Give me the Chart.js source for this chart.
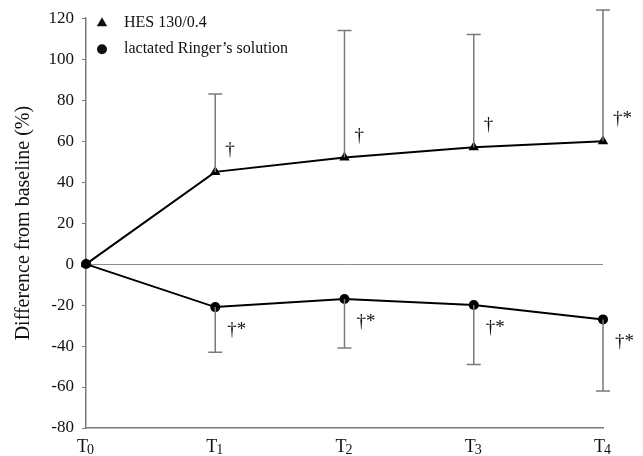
<!DOCTYPE html>
<html>
<head>
<meta charset="utf-8">
<script src="https://cdn.jsdelivr.net/npm/chart.js@4"></script>
<style>
  html, body { margin: 0; padding: 0; background: #fff; }
  #wrap { width: 643px; height: 456px; }
</style>
</head>
<body>
<div id="wrap"><canvas id="myChart" width="643" height="456"></canvas></div>
<script>
// x categories: letter + subscript index
const timeLabels = ['T0', 'T1', 'T2', 'T3', 'T4'];

const hesValues = [0, 45, 52, 57, 60];
const hesUpper = [null, 83, 114, 112, 124];
const hesMarks = ['', '\u2020', '\u2020', '\u2020', '\u2020*'];

const ringerValues = [0, -21, -17, -20, -27];
const ringerLower = [null, -43, -41, -49, -62];
const ringerMarks = ['', '\u2020*', '\u2020*', '\u2020*', '\u2020*'];

const yTicks = { min: -80, max: 120, step: 20 };

const serif = '"Liberation Serif", "DejaVu Serif", serif';

// error bars (one-sided), significance marks, subscripted x labels, legend
const extrasPlugin = {
    id: 'extras',
    afterDatasetsDraw(chart) {
        const { ctx } = chart;
        const x = chart.scales.x;
        const y = chart.scales.y;
        const bars = [hesUpper, ringerLower];
        const vals = [hesValues, ringerValues];
        ctx.save();
        ctx.strokeStyle = '#7a7a7a';
        ctx.lineWidth = 1.5;
        bars.forEach((arr, di) => {
            arr.forEach((v, i) => {
                if (v === null) return;
                const px = x.getPixelForValue(i);
                const py0 = y.getPixelForValue(vals[di][i]);
                const py1 = y.getPixelForValue(v);
                ctx.beginPath();
                ctx.moveTo(px, py0);
                ctx.lineTo(px, py1);
                ctx.moveTo(px - 7, py1);
                ctx.lineTo(px + 7, py1);
                ctx.stroke();
            });
        });
        ctx.restore();
    },
    afterDraw(chart) {
        const { ctx, chartArea } = chart;
        const x = chart.scales.x;
        const y = chart.scales.y;
        ctx.save();

        // significance marks
        ctx.fillStyle = '#111';
        ctx.font = '19px ' + serif;
        ctx.textAlign = 'left';
        ctx.textBaseline = 'middle';
        hesMarks.forEach((m, i) => {
            if (!m) return;
            ctx.fillText(m, x.getPixelForValue(i) + 10, y.getPixelForValue(hesValues[i]) - 22);
        });
        ringerMarks.forEach((m, i) => {
            if (!m) return;
            ctx.fillText(m, x.getPixelForValue(i) + 12, y.getPixelForValue(ringerValues[i]) + 23);
        });

        // x labels with subscript
        ctx.textBaseline = 'alphabetic';
        timeLabels.forEach((lab, i) => {
            const px = x.getPixelForValue(i);
            const main = lab.charAt(0);
            const sub = lab.slice(1);
            ctx.font = '18px ' + serif;
            const w1 = ctx.measureText(main).width;
            ctx.font = '14px ' + serif;
            const w2 = ctx.measureText(sub).width;
            const left = px - (w1 + w2) / 2;
            const base = chartArea.bottom + 24;
            ctx.font = '18px ' + serif;
            ctx.textAlign = 'left';
            ctx.fillText(main, left, base);
            ctx.font = '14px ' + serif;
            ctx.fillText(sub, left + w1 - 1, base + 2);
        });

        // legend inside the plot area, top-left
        const lx = chartArea.left + 16;
        let ly = chartArea.top + 5;
        ctx.font = '16px ' + serif;
        ctx.textBaseline = 'middle';
        chart.data.datasets.forEach(ds => {
            Chart.helpers.drawPoint(ctx, {
                pointStyle: ds.pointStyle,
                radius: ds.pointStyle === 'triangle' ? 6 : 5,
                borderWidth: 0
            }, lx, ly);
            ctx.fillStyle = '#111';
            ctx.fillText(ds.label, lx + 22, ly);
            ly += 26;
        });
        ctx.restore();
    }
};

new Chart(document.getElementById('myChart'), {
    type: 'line',
    data: {
        labels: timeLabels,
        datasets: [
            {
                label: 'HES 130/0.4',
                data: hesValues,
                borderColor: '#000',
                backgroundColor: '#000',
                borderWidth: 2,
                pointStyle: 'triangle',
                pointRadius: 6,
                pointBorderWidth: 0,
                tension: 0
            },
            {
                label: 'lactated Ringer\u2019s solution',
                data: ringerValues,
                borderColor: '#000',
                backgroundColor: '#000',
                borderWidth: 2,
                pointStyle: 'circle',
                pointRadius: 5,
                pointBorderWidth: 0,
                tension: 0
            }
        ]
    },
    options: {
        responsive: false,
        animation: false,
        layout: {
            padding: { left: 0, right: 40, top: 18, bottom: 0 }
        },
        scales: {
            x: {
                offset: false,
                grid: { display: false },
                border: { color: '#7a7a7a', width: 1.5 },
                ticks: { display: false },
                afterFit: scale => { scale.height = 28; }
            },
            y: {
                min: yTicks.min,
                max: yTicks.max,
                border: { color: '#7a7a7a', width: 1.5 },
                grid: {
                    drawOnChartArea: true,
                    drawTicks: true,
                    tickLength: 4,
                    tickColor: '#7a7a7a',
                    color: ctx => (ctx.tick && ctx.tick.value === 0) ? '#8a8a8a' : 'rgba(0,0,0,0)',
                    lineWidth: 1
                },
                ticks: {
                    stepSize: yTicks.step,
                    color: '#111',
                    font: { family: serif, size: 17 },
                    padding: 8
                },
                title: {
                    display: true,
                    text: 'Difference from baseline (%)',
                    color: '#111',
                    font: { family: serif, size: 20 },
                    padding: { top: 12, bottom: 0 }
                },
                afterFit: scale => { scale.width = 86; }
            }
        },
        plugins: {
            legend: { display: false },
            tooltip: { enabled: false }
        }
    },
    plugins: [extrasPlugin]
});
</script>
</body>
</html>
